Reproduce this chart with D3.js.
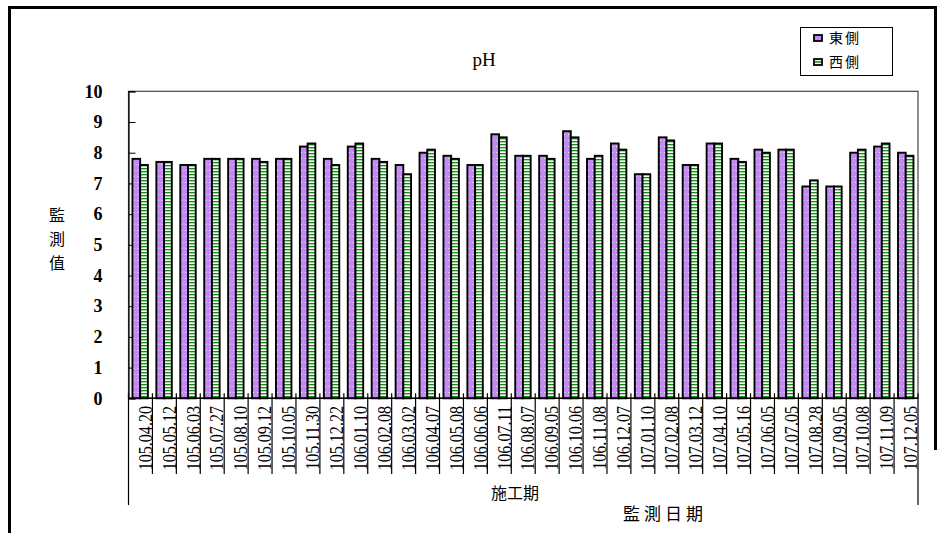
<!DOCTYPE html>
<html><head><meta charset="utf-8">
<script src="https://cdn.jsdelivr.net/npm/d3@7"></script>
<style>body{margin:0;background:#fff}svg{display:block}</style>
</head><body>
<svg id="c" width="941" height="533"></svg>
<script>
const categories = ["105.04.20","105.05.12","105.06.03","105.07.27","105.08.10","105.09.12","105.10.05","105.11.30","105.12.22","106.01.10","106.02.08","106.03.02","106.04.07","106.05.08","106.06.06","106.07.11","106.08.07","106.09.05","106.10.06","106.11.08","106.12.07","107.01.10","107.02.08","107.03.12","107.04.10","107.05.16","107.06.05","107.07.05","107.08.28","107.09.05","107.10.08","107.11.09","107.12.05"];
const eastValues = [7.8,7.7,7.6,7.8,7.8,7.8,7.8,8.2,7.8,8.2,7.8,7.6,8.0,7.9,7.6,8.6,7.9,7.9,8.7,7.8,8.3,7.3,8.5,7.6,8.3,7.8,8.1,8.1,6.9,6.9,8.0,8.2,8.0];
const westValues = [7.6,7.7,7.6,7.8,7.8,7.7,7.8,8.3,7.6,8.3,7.7,7.3,8.1,7.8,7.6,8.5,7.9,7.8,8.5,7.9,8.1,7.3,8.4,7.6,8.3,7.7,8.0,8.1,7.1,6.9,8.1,8.3,7.9];
const seriesNames = ["東側","西側"];
const yTicks = [0,1,2,3,4,5,6,7,8,9,10];
const title = "pH";
const yTitle = ["監","測","值"];
const groupLabel = "施工期";
const xTitle = "監測日期";

const svg = d3.select("#c");
const serif = "'Liberation Serif','Times New Roman',serif";
const cjk = "'Noto Sans CJK TC','Noto Sans CJK SC',sans-serif";

// patterns
const defs = svg.append("defs");
const pp = defs.append("pattern").attr("id","pPurple").attr("patternUnits","userSpaceOnUse")
  .attr("width",4).attr("height",6);
pp.append("rect").attr("width",4).attr("height",6).attr("fill","#c38af5");
pp.append("rect").attr("x",1).attr("y",2).attr("width",1).attr("height",1).attr("fill","#f4e8ff");
const pg = defs.append("pattern").attr("id","pGreen").attr("patternUnits","userSpaceOnUse")
  .attr("width",4).attr("height",3);
pg.append("rect").attr("width",4).attr("height",3).attr("fill","#ffffff");
pg.append("rect").attr("y",0).attr("width",4).attr("height",1).attr("fill","#1a8a1a");
pg.append("rect").attr("y",1).attr("width",4).attr("height",1).attr("fill","#a8d8a8");
const fills = ["url(#pPurple)","url(#pGreen)"];

// outer frame
const frame = svg.append("g").attr("stroke","#000").attr("stroke-width",3).attr("fill","none");
frame.append("line").attr("x1",9.5).attr("y1",6).attr("x2",9.5).attr("y2",533);
frame.append("line").attr("x1",8).attr("y1",7.5).attr("x2",937).attr("y2",7.5);
frame.append("line").attr("x1",935.5).attr("y1",6).attr("x2",935.5).attr("y2",450);

const L = 128.5, R = 918, T = 91.3, B = 398.3;
const x0 = d3.scaleBand().domain(categories).range([L, R]).padding(0);
const bw = x0.bandwidth();
const x1 = d3.scaleBand().domain(seriesNames).range([bw*0.165, bw*0.81]).padding(0);
const y = d3.scaleLinear().domain([0,10]).range([B, T]);

// plot frame
svg.append("rect").attr("x",L).attr("y",T).attr("width",R-L).attr("height",B-T)
  .attr("fill","none").attr("stroke","#444").attr("stroke-width",1.2);

// y axis
const yAxis = d3.axisLeft(y).tickValues(yTicks).tickSize(-7).tickPadding(26).tickFormat(d3.format("d"));
const ga = svg.append("g").attr("transform",`translate(${L},0)`).call(yAxis);
ga.select(".domain").attr("stroke","#000").attr("stroke-width",1.2);
ga.selectAll(".tick line").attr("stroke","#000");
ga.selectAll(".tick text").attr("font-family",serif).attr("font-size",18).attr("font-weight","bold").attr("fill","#000");

// bars
const data = categories.map((c,i)=>({c, vals:[eastValues[i], westValues[i]]}));
const groups = svg.append("g").selectAll("g").data(data).join("g")
  .attr("transform",d=>`translate(${x0(d.c)},0)`);
groups.selectAll("rect").data(d=>d.vals.map((v,k)=>({k,v}))).join("rect")
  .attr("x",d=>x1(seriesNames[d.k])).attr("width",x1.bandwidth())
  .attr("y",d=>y(d.v)).attr("height",d=>B-y(d.v))
  .attr("fill",d=>fills[d.k]).attr("stroke","#000").attr("stroke-width",1.9);

// x baseline
svg.append("line").attr("x1",L).attr("x2",R).attr("y1",B).attr("y2",B).attr("stroke","#000").attr("stroke-width",1.4);

// category dividers
const bounds = categories.map(c=>x0(c)).concat([R]);
svg.append("g").selectAll("line").data(bounds).join("line")
  .attr("x1",d=>d).attr("x2",d=>d)
  .attr("y1",(d,i)=> B-5)
  .attr("y2",(d,i)=> (i===0||i===bounds.length-1) ? 505 : 474)
  .attr("stroke","#000").attr("stroke-width",1.2);

// category labels
svg.append("g").selectAll("text").data(categories).join("text")
  .attr("transform",d=>`translate(${x0(d)+bw*0.97},406) rotate(-90) scale(0.92,1.12)`)
  .attr("text-anchor","end")
  .attr("font-family",serif).attr("font-size",17.5).attr("fill","#000")
  .text(d=>d);

// group label & x title
svg.append("text").attr("x",515).attr("y",499).attr("text-anchor","middle")
  .attr("font-family",cjk).attr("font-size",16).text(groupLabel);
svg.append("text").attr("x",665).attr("y",520).attr("text-anchor","middle")
  .attr("font-family",cjk).attr("font-size",17).attr("letter-spacing",4).text(xTitle);

// y title
svg.append("g").selectAll("text").data(yTitle).join("text")
  .attr("x",57).attr("y",(d,i)=>221+i*24).attr("text-anchor","middle")
  .attr("font-family",cjk).attr("font-size",16).text(d=>d);

// title
svg.append("text").attr("x",484).attr("y",66).attr("text-anchor","middle")
  .attr("font-family",serif).attr("font-size",19).text(title);

// legend
const lg = svg.append("g");
lg.append("rect").attr("x",800.5).attr("y",27.5).attr("width",92).attr("height",48)
  .attr("fill","#fff").attr("stroke","#000").attr("stroke-width",1);
const legY = [38, 62];
seriesNames.forEach((s,k)=>{
  lg.append("rect").attr("x",814).attr("y",legY[k]-3).attr("width",8).attr("height",6)
    .attr("fill",k===0?"#c38af5":"#fff").attr("stroke","#000").attr("stroke-width",1.8);
  if(k===1) lg.append("line").attr("x1",815).attr("x2",821).attr("y1",legY[k]).attr("y2",legY[k]).attr("stroke","#1a8a1a").attr("stroke-width",1.5);
  lg.append("text").attr("x",829).attr("y",legY[k]+5).attr("font-family",cjk).attr("font-size",14).attr("letter-spacing",2).text(s);
});
</script>
</body></html>
